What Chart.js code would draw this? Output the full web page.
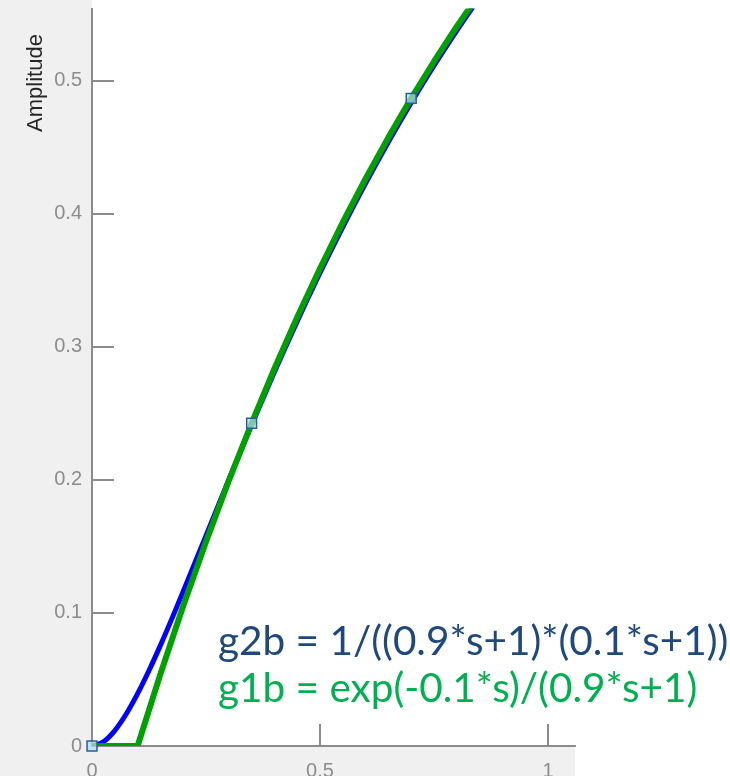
<!DOCTYPE html>
<html>
<head>
<meta charset="utf-8">
<title>Step Response</title>
<script src="https://cdn.jsdelivr.net/npm/chart.js@4/dist/chart.umd.min.js"></script>
<style>
  html, body { margin: 0; padding: 0; background: #ffffff; }
  #wrap { width: 730px; height: 776px; }
</style>
</head>
<body>
<div id="wrap"><canvas id="c" width="730" height="776"></canvas></div>
<script>
// Step response samples (time in seconds, amplitude)
const tG2b = [0, 0.025, 0.05, 0.075, 0.1, 0.125, 0.15, 0.175, 0.2, 0.25, 0.3, 0.35, 0.4, 0.45, 0.5, 0.55, 0.6, 0.65, 0.7, 0.75, 0.8, 0.85];
const ampG2b = [0, 0.0032, 0.0116, 0.0240, 0.0393, 0.0567, 0.0756, 0.0955, 0.1161, 0.1581, 0.2001, 0.2412, 0.2810, 0.3190, 0.3554, 0.3899, 0.4227, 0.4538, 0.4833, 0.5111, 0.5375, 0.5625];

const tG1b = [0, 0.1, 0.15, 0.2, 0.25, 0.3, 0.35, 0.4, 0.45, 0.5, 0.55, 0.6, 0.65, 0.7, 0.75, 0.8, 0.85];
const ampG1b = [0, 0, 0.0540, 0.1052, 0.1535, 0.1993, 0.2425, 0.2835, 0.3222, 0.3588, 0.3935, 0.4262, 0.4573, 0.4866, 0.5143, 0.5406, 0.5654];

// Data-tip markers placed on the response
const tMarks = [0, 0.35, 0.7];
const ampMarks = [0, 0.2425, 0.4866];

// Axis ranges and tick values
const xRange = [0, 1.0592];
const yRange = [0, 0.5541];
const xTicks = [0, 0.5, 1];
const yTicks = [0, 0.1, 0.2, 0.3, 0.4, 0.5];

const yTitle = 'Amplitude';
const legendLines = [
  { text: 'g2b = 1/((0.9*s+1)*(0.1*s+1))', color: '#1f497d' },
  { text: 'g1b = exp(-0.1*s)/(0.9*s+1)', color: '#00b050' }
];

const toXY = (xs, ys) => xs.map((x, i) => ({ x: x, y: ys[i] }));

const axisGray = '#8c8c8c';

// Gray figure background, inward tick marks, title and formula text
const decorations = {
  id: 'decorations',
  beforeDraw(chart) {
    const { ctx, chartArea: a, width, height } = chart;
    ctx.save();
    ctx.fillStyle = '#ffffff';
    ctx.fillRect(0, 0, width, height);
    ctx.fillStyle = '#f0f0f0';
    ctx.fillRect(0, 0, a.left, height);
    ctx.fillRect(0, a.bottom, a.right, height - a.bottom);
    ctx.restore();
  },
  afterDraw(chart) {
    const { ctx, chartArea: a, scales } = chart;
    ctx.save();
    ctx.strokeStyle = axisGray;
    ctx.lineWidth = 2;
    ctx.beginPath();
    yTicks.forEach(v => {
      if (v === 0) return;
      const y = Math.round(scales.y.getPixelForValue(v));
      ctx.moveTo(a.left, y);
      ctx.lineTo(a.left + 22, y);
    });
    xTicks.forEach(v => {
      if (v === 0) return;
      const x = Math.round(scales.x.getPixelForValue(v));
      ctx.moveTo(x, a.bottom);
      ctx.lineTo(x, a.bottom - 22);
    });
    ctx.stroke();

    // y-axis title
    ctx.translate(36, 83);
    ctx.rotate(-Math.PI / 2);
    ctx.fillStyle = '#262626';
    ctx.font = '22px "Liberation Sans", Arial, sans-serif';
    ctx.textAlign = 'center';
    ctx.textBaseline = 'middle';
    ctx.fillText(yTitle, 0, 0);
    ctx.setTransform(1, 0, 0, 1, 0, 0);

    // transfer function labels
    ctx.font = '40.5px Lato, "Open Sans", sans-serif';
    ctx.textAlign = 'left';
    ctx.textBaseline = 'alphabetic';
    legendLines.forEach((l, i) => {
      ctx.fillStyle = l.color;
      ctx.fillText(l.text, 218, 655 + i * 47);
    });
    ctx.restore();
  }
};

new Chart(document.getElementById('c'), {
  type: 'scatter',
  data: {
    datasets: [
      {
        label: 'markers',
        data: toXY(tMarks, ampMarks),
        showLine: false,
        clip: false,
        pointStyle: 'rect',
        pointRadius: 7,
        pointBorderWidth: 1.5,
        pointBorderColor: '#24619c',
        pointBackgroundColor: 'rgba(180,220,240,0.7)',
        order: 0
      },
      {
        label: 'g1b',
        data: toXY(tG1b, ampG1b),
        showLine: true,
        borderColor: '#00a000',
        borderWidth: 6,
        pointRadius: 0,
        tension: 0,
        borderJoinStyle: 'round',
        order: 1
      },
      {
        label: 'g2b',
        data: toXY(tG2b, ampG2b),
        showLine: true,
        borderColor: '#0000ff',
        borderWidth: 5,
        pointRadius: 0,
        cubicInterpolationMode: 'monotone',
        borderJoinStyle: 'round',
        order: 2
      }
    ]
  },
  options: {
    responsive: false,
    animation: false,
    events: [],
    layout: { padding: { top: 8, right: 155, left: 0, bottom: 0 } },
    plugins: { legend: { display: false }, tooltip: { enabled: false } },
    scales: {
      x: {
        type: 'linear',
        min: xRange[0],
        max: xRange[1],
        afterFit(s) { s.height = 30; s.paddingLeft = 0; s.paddingRight = 0; },
        afterBuildTicks(s) { s.ticks = xTicks.map(v => ({ value: v })); },
        grid: { display: false, drawTicks: false },
        border: { display: true, color: axisGray, width: 2 },
        ticks: {
          padding: 13,
          color: axisGray,
          font: { family: '"Liberation Sans", Arial, sans-serif', size: 20 },
          maxRotation: 0,
          callback: v => String(v)
        }
      },
      y: {
        type: 'linear',
        min: yRange[0],
        max: yRange[1],
        afterFit(s) { s.width = 92; s.paddingTop = 0; s.paddingBottom = 0; },
        afterBuildTicks(s) { s.ticks = yTicks.map(v => ({ value: v })); },
        grid: { display: false, drawTicks: false },
        border: { display: true, color: axisGray, width: 2 },
        ticks: {
          padding: 10,
          color: axisGray,
          font: { family: '"Liberation Sans", Arial, sans-serif', size: 20 },
          callback: v => String(v)
        }
      }
    }
  },
  plugins: [decorations]
});
</script>
</body>
</html>
